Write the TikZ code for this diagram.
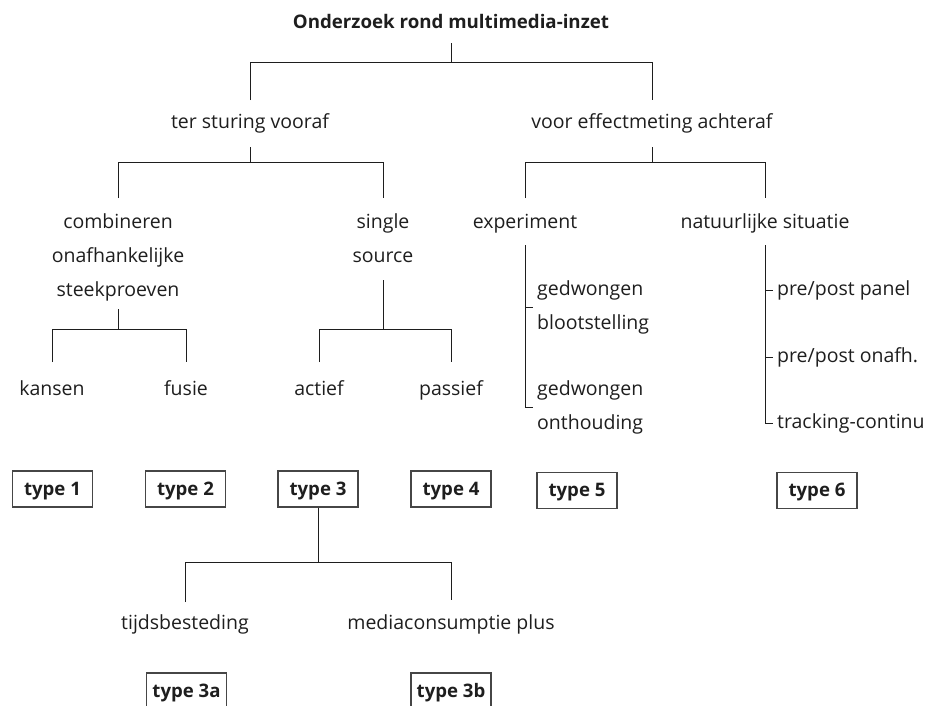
\documentclass[tikz,border=0pt]{standalone}
\usepackage{fontspec}
\setmainfont{Open Sans}
\usetikzlibrary{positioning}
\definecolor{mydark}{RGB}{30,30,30}
\definecolor{mygrey}{RGB}{70,70,70}
\tikzset{
  lbl/.style={inner sep=0pt, text=mydark, font=\fontsize{19.5}{34}\selectfont,
    text height=14pt, text depth=4pt},
  stack/.style={inner sep=0pt, text=mydark, font=\fontsize{19.5}{34}\selectfont},
  typebox/.style={rectangle, draw=mygrey, line width=1.3pt, inner sep=0pt,
    minimum width=80pt, minimum height=36pt, text=mydark,
    font=\fontsize{18.6}{22}\selectfont\bfseries, text height=13pt, text depth=1pt},
  tree/.style={line width=0.9pt, color=mydark}
}
\begin{document}
\begin{tikzpicture}[x=1pt, y=-1pt]
  \useasboundingbox (0,0) rectangle (930,705);
  \clip (0,0) rectangle (930,705);

  % top levels
  \node[lbl, font=\fontsize{18.7}{34}\selectfont\bfseries] (title) at (451,23) {Onderzoek rond multimedia-inzet};
  \node[lbl] (sturing) at (250,123) {ter sturing vooraf};
  \node[lbl] (effect) at (652,123) {voor effectmeting achteraf};

  \node[stack, align=center] (combi) at (118,257) {combineren\\onafhankelijke\\steekproeven};
  \node[stack, align=center] (single) at (383,238) {single\\source};
  \node[lbl] (experiment) at (525,223) {experiment};
  \node[lbl] (natuur) at (765,223) {natuurlijke situatie};

  \node[lbl] (kansen) at (52,390) {kansen};
  \node[lbl] (fusie) at (186,390) {fusie};
  \node[lbl] (actief) at (319,390) {actief};
  \node[lbl] (passief) at (451,390) {passief};

  \node[stack, align=left, anchor=west] (blootst) at (537,307) {gedwongen\\blootstelling};
  \node[stack, align=left, anchor=west] (onthoud) at (537,407) {gedwongen\\onthouding};

  \node[lbl, anchor=west] (panel) at (777,290) {pre/post panel};
  \node[lbl, anchor=west] (onafh) at (777,357) {pre/post onafh.};
  \node[lbl, anchor=west] (tracking) at (777,423) {tracking-continu};

  % types
  \node[typebox] (type1) at (52.5,489) {type 1};
  \node[typebox] (type2) at (185.5,489) {type 2};
  \node[typebox] (type3) at (318,489) {type 3};
  \node[typebox] (type4) at (451,489) {type 4};
  \node[typebox] (type5) at (577,490.5) {type 5};
  \node[typebox] (type6) at (817,490.5) {type 6};

  \node[lbl] (tijds) at (185,624) {tijdsbesteding};
  \node[lbl] (media) at (451,624) {mediaconsumptie plus};
  \node[typebox] (type3a) at (186.5,691) {type 3a};
  \node[typebox] (type3b) at (451,691) {type 3b};

  % forks
  \draw[tree] (title |- 0,43) -- (title |- 0,62);
  \draw[tree] (sturing |- 0,100) |- (effect |- 0,62) -- (effect |- 0,100);

  \draw[tree] (sturing |- 0,147) -- (sturing |- 0,162);
  \draw[tree] (combi |- 0,198) |- (single |- 0,162) -- (single |- 0,198);
  \draw[tree] (effect |- 0,147) -- (effect |- 0,162);
  \draw[tree] (experiment |- 0,198) |- (natuur |- 0,162) -- (natuur |- 0,198);

  \draw[tree] (combi |- 0,309) -- (combi |- 0,329);
  \draw[tree] (kansen |- 0,362) |- (fusie |- 0,329) -- (fusie |- 0,362);
  \draw[tree] (single |- 0,280) -- (single |- 0,329);
  \draw[tree] (actief |- 0,362) |- (passief |- 0,329) -- (passief |- 0,362);

  % brackets
  \draw[tree] (experiment |- 0,245) |- ([xshift=-4pt]onthoud.west);
  \draw[tree] (experiment |- blootst.west) -- ([xshift=-4pt]blootst.west);
  \draw[tree] (natuur |- 0,245) |- ([xshift=-4pt]tracking.west);
  \draw[tree] (natuur |- panel.west) -- ([xshift=-4pt]panel.west);
  \draw[tree] (natuur |- onafh.west) -- ([xshift=-4pt]onafh.west);

  \draw[tree] (type3.south) -- (type3 |- 0,562);
  \draw[tree] (tijds |- 0,602) |- (media |- 0,562) -- (media |- 0,600);
\end{tikzpicture}
\end{document}
